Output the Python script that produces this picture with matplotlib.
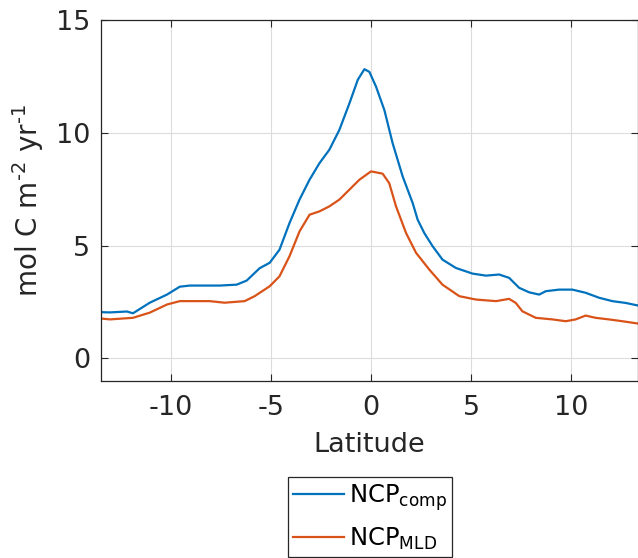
import matplotlib
matplotlib.use("Agg")
import matplotlib.pyplot as plt

plt.rcParams["axes.unicode_minus"] = False

# values
lat_comp = [-13.5, -13.05, -12.2, -11.9, -11.06, -10.2, -9.56, -9.06, -7.57, -6.72, -6.22,
            -5.57, -5.07, -4.58, -4.08, -3.58, -3.08, -2.58, -2.09, -1.59, -1.09, -0.67,
            -0.34, -0.09, 0.24, 0.66, 1.07, 1.57, 2.07, 2.32, 2.65, 3.07, 3.56, 4.23,
            5.06, 5.73, 6.39, 6.89, 7.39, 7.89, 8.39, 8.72, 9.38, 10.05, 10.71, 11.38,
            12.04, 12.71, 13.3]
ncp_comp = [2.05, 2.04, 2.08, 2.0, 2.47, 2.83, 3.18, 3.23, 3.23, 3.27, 3.45,
            4.0, 4.24, 4.82, 6.0, 7.04, 7.92, 8.66, 9.25, 10.13, 11.3, 12.35,
            12.82, 12.7, 12.05, 11.0, 9.54, 8.07, 6.89, 6.15, 5.56, 4.97, 4.38, 4.01,
            3.76, 3.67, 3.72, 3.57, 3.13, 2.93, 2.83, 2.98, 3.05, 3.05, 2.91, 2.69,
            2.54, 2.46, 2.35]

lat_mld = [-13.5, -13.05, -11.9, -11.06, -10.2, -9.56, -8.07, -7.32, -6.32, -5.82,
           -5.07, -4.58, -4.08, -3.58, -3.08, -2.58, -2.09, -1.59, -1.09, -0.59,
           -0.01, 0.57, 0.9, 1.24, 1.74, 2.24, 2.9, 3.56, 4.4, 5.23, 6.23, 6.89,
           7.22, 7.55, 8.22, 9.05, 9.72, 10.21, 10.71, 11.21, 11.87, 12.54, 13.3]
ncp_mld = [1.77, 1.73, 1.8, 2.03, 2.39, 2.54, 2.54, 2.47, 2.54, 2.76,
           3.2, 3.64, 4.53, 5.63, 6.37, 6.52, 6.74, 7.04, 7.48, 7.92,
           8.29, 8.19, 7.77, 6.74, 5.56, 4.68, 3.94, 3.27, 2.76, 2.61, 2.54, 2.64,
           2.46, 2.09, 1.8, 1.73, 1.65, 1.73, 1.9, 1.8, 1.73, 1.65, 1.55]

xticks = [-10, -5, 0, 5, 10]
yticks = [0, 5, 10, 15]

W, H = 638, 558
fig = plt.figure(figsize=(W / 100, H / 100), dpi=100)
ax = fig.add_axes([100.5 / W, 1 - 381 / H, 537 / W, 361 / H])

ax.plot(lat_comp, ncp_comp, color="#0072BD", lw=1.6, label=r"NCP$_{\mathrm{comp}}$")
ax.plot(lat_mld, ncp_mld, color="#D95319", lw=1.6, label=r"NCP$_{\mathrm{MLD}}$")

ax.set_xlim(-13.52, 13.3)
ax.set_ylim(-1, 15)
ax.set_xticks(xticks)
ax.set_yticks(yticks)
ax.grid(True, color="#dcdcdc", lw=0.8)
ax.set_axisbelow(True)

dark = "#262626"
for s in ax.spines.values():
    s.set_color(dark)
    s.set_linewidth(0.9)
ax.tick_params(direction="in", length=5, width=0.8, colors=dark, labelsize=19.5,
               top=True, right=True)
ax.tick_params(axis="x", pad=10)
ax.tick_params(axis="y", pad=7.5)

ax.set_xlabel("Latitude", fontsize=19.5, color=dark, labelpad=8)
ax.set_ylabel(r"mol C m$^{\text{-2}}$ yr$^{\text{-1}}$", fontsize=20, color=dark, labelpad=7)

leg = fig.legend(loc="lower left", bbox_to_anchor=(288 / W, 1 - 557 / H),
                 fontsize=17.5, frameon=True, fancybox=False, framealpha=1,
                 edgecolor=dark, handlelength=2.1, handletextpad=0.2,
                 borderpad=0.2, labelspacing=0.55, borderaxespad=0)
leg.get_frame().set_linewidth(0.9)

fig.savefig("out.png", dpi=100)
